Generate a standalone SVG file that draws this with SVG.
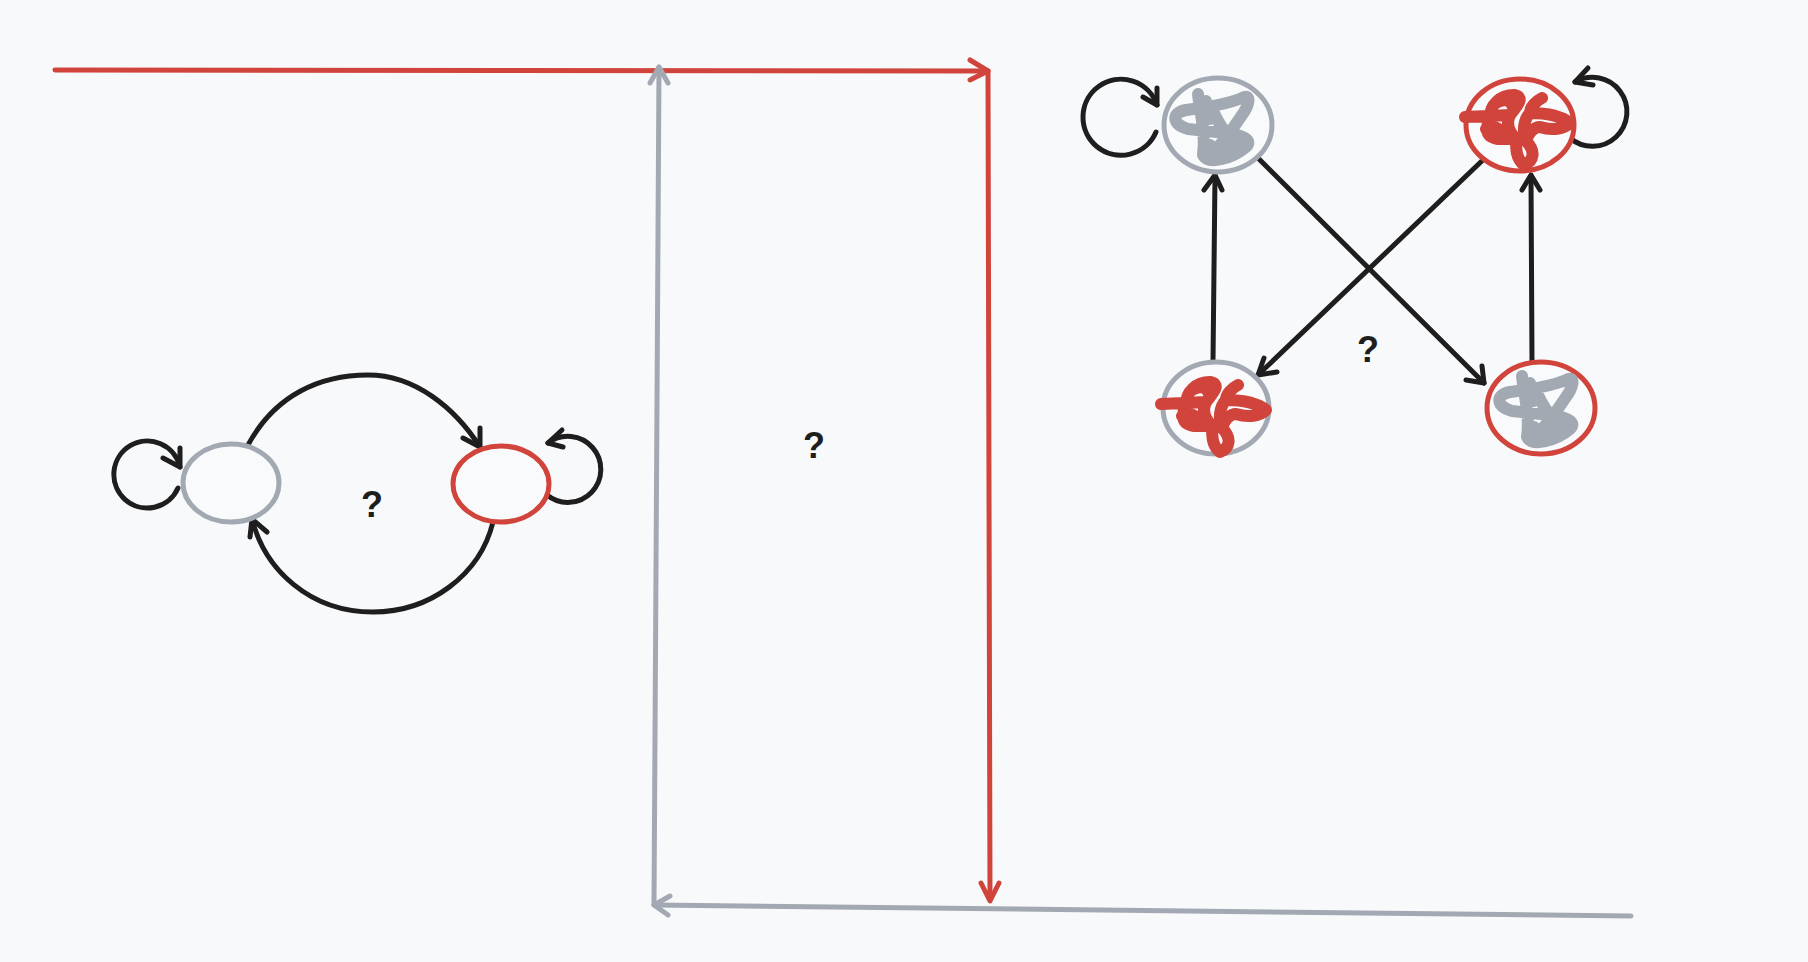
<svg xmlns="http://www.w3.org/2000/svg" width="1808" height="962" viewBox="0 0 1808 962">
<defs>
<style>
.bg{fill:#f8f9fb}
.node{fill:#f9fafc;stroke-width:5}
.g{stroke:#a3a9b2}
.r{stroke:#d1443b}
.k{fill:none;stroke:#1e1e1e;stroke-width:5;stroke-linecap:round;stroke-linejoin:round}
.line{fill:none;stroke-width:5;stroke-linecap:round;stroke-linejoin:round}
.scr{fill:none;stroke-width:12;stroke-linecap:round;stroke-linejoin:round}
.q{font-family:"Liberation Sans",Arial,sans-serif;font-weight:bold;font-size:36px;fill:#1e1e1e;text-anchor:middle}
</style>
<path id="scribG" d="M -20,-31 C -18,-12 -12,8 -15,30 C -10,40 14,34 28,22 C 36,14 22,10 8,8 L -30,4 C -45,0 -48,-12 -32,-15 C -18,-17 10,-20 26,-28 C 34,-30 30,-18 24,-10 C 16,2 6,16 -2,24 C -6,28 -12,26 -8,20 M -12,-24 L -8,-6 M -13,22 C -4,30 12,26 20,20 C 24,14 14,14 4,20 M 8,8 C 2,0 -4,-10 -6,-18"/>
<path id="scribR" d="M -55,-8 L -10,-10 C -2,-20 5,-28 -6,-30 C -20,-30 -30,-20 -30,-8 C -34,2 -36,12 -22,14 L -4,14 C -4,24 -4,34 4,40 C 14,36 16,26 6,16 C 8,8 14,2 20,2 C 32,6 44,4 50,-2 C 40,-10 24,-12 10,-12 C 10,-18 16,-24 22,-27 M -24,-22 C -18,-26 -10,-26 -8,-20 M -10,-10 C -14,-2 -12,6 -4,14 M 10,-12 C 4,-6 2,6 6,16 M -34,4 C -28,0 -20,2 -18,10"/>
</defs>
<rect class="bg" x="0" y="0" width="1808" height="962"/>

<g id="connectors">
  <path class="line r" d="M 55,70 L 988,71"/>
  <path class="line r" d="M 970,60 L 988,71 L 970,80"/>
  <path class="line r" d="M 988,72 L 990,900"/>
  <path class="line r" d="M 981,883 L 990,901 L 999,883"/>
  <path class="line g" stroke-width="5.5" d="M 1631,916 L 654,905"/>
  <path class="line g" d="M 670,896 L 654,905 L 668,915"/>
  <path class="line g" d="M 654,905 L 659,67"/>
  <path class="line g" d="M 650,83 L 659,67 L 668,83"/>

  <path class="k" d="M 248,445 C 275,395 320,375 368,375 C 415,375 455,408 480,447"/>
  <path class="k" d="M 463,438 L 480,447 L 480,428"/>
  <path class="k" d="M 493,522 C 480,575 430,612 373,612 C 310,612 265,570 252,519"/>
  <path class="k" d="M 250,537 L 252,519 L 267,532"/>
  <path class="k" d="M 178,488 A 33.5 33.5 0 1 1 180,467"/>
  <path class="k" d="M 163,458 L 180,467 L 180,448"/>
  <path class="k" d="M 547,495 A 33 33 0 1 0 548,443"/>
  <path class="k" d="M 563,447 L 548,443 L 562,430"/>

  <path class="k" d="M 1213,362 L 1215,176"/>
  <path class="k" d="M 1204,190 L 1215,175 L 1222,190"/>
  <path class="k" d="M 1532,362 L 1531,176"/>
  <path class="k" d="M 1522,190 L 1531,175 L 1540,190"/>
  <path class="k" d="M 1257,157 L 1484,383"/>
  <path class="k" d="M 1466,380 L 1484,383 L 1482,366"/>
  <path class="k" d="M 1486,157 L 1258,375"/>
  <path class="k" d="M 1277,372 L 1258,375 L 1264,358"/>
  <path class="k" d="M 1156,132 A 38 38 0 1 1 1157,105"/>
  <path class="k" d="M 1143,97 L 1157,105 L 1157,88"/>
  <path class="k" d="M 1570,138 A 34.5 34.5 0 1 0 1575,82"/>
  <path class="k" d="M 1593,85 L 1575,82 L 1588,68"/>
</g>

<g id="node-left-gray">
  <ellipse class="node g" cx="231" cy="483" rx="48" ry="39"/>
</g>
<g id="node-left-red">
  <ellipse class="node r" cx="501" cy="484" rx="48" ry="38"/>
</g>
<g id="node-tl">
  <ellipse class="node g" cx="1218" cy="125" rx="54" ry="47"/>
  <use href="#scribG" class="scr g" transform="translate(1218,125)"/>
</g>
<g id="node-tr">
  <ellipse class="node r" cx="1520" cy="125" rx="54" ry="46"/>
  <use href="#scribR" class="scr r" transform="translate(1520,125)"/>
</g>
<g id="node-bl">
  <ellipse class="node g" cx="1216" cy="408" rx="53" ry="46"/>
  <use href="#scribR" class="scr r" transform="translate(1216,412)"/>
</g>
<g id="node-br">
  <ellipse class="node r" cx="1541" cy="408" rx="54" ry="46"/>
  <use href="#scribG" class="scr g" transform="translate(1542,407)"/>
</g>

<g id="labels">
  <text class="q" x="372" y="517">?</text>
  <text class="q" x="814" y="458">?</text>
  <text class="q" x="1368" y="362">?</text>
</g>
</svg>
